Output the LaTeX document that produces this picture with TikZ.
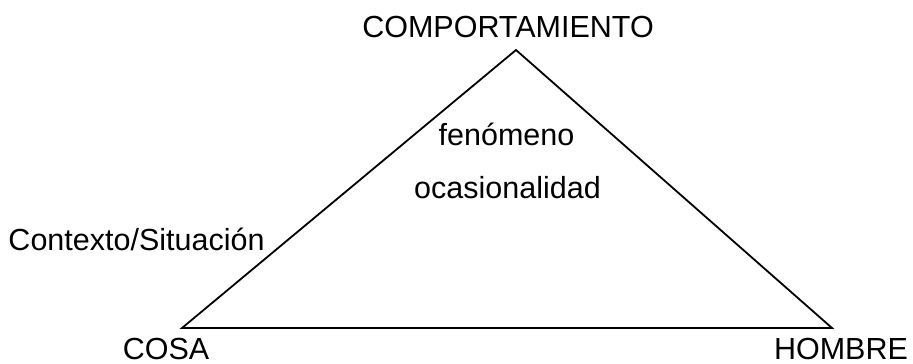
\documentclass[tikz,border=0pt]{standalone}
\usepackage{fontspec}
\setmainfont{Liberation Sans}
\begin{document}
\begin{tikzpicture}[x=1pt,y=-1pt,
  lbl/.style={anchor=base,inner sep=0pt,font=\fontsize{30.5}{36}\selectfont},
  edge/.style={line width=1.8pt,line join=miter}]
\useasboundingbox (0,0) rectangle (913,364);
\coordinate (apex) at (516,50);
\coordinate (left) at (182,328);
\coordinate (right) at (832,328);
\draw[edge] (left) -- (apex) -- (right) -- cycle;
\node[lbl] (comp) at (508,37) {COMPORTAMIENTO};
\node[lbl] (cosa) at (166,359) {COSA};
\node[lbl] (hombre) at (841,359) {HOMBRE};
\node[lbl] (ctx) at (136.5,250) {Contexto/Situación};
\node[lbl] (fen) at (506.5,145) {fenómeno};
\node[lbl] (ocas) at (507.5,198) {ocasionalidad};
\end{tikzpicture}
\end{document}
